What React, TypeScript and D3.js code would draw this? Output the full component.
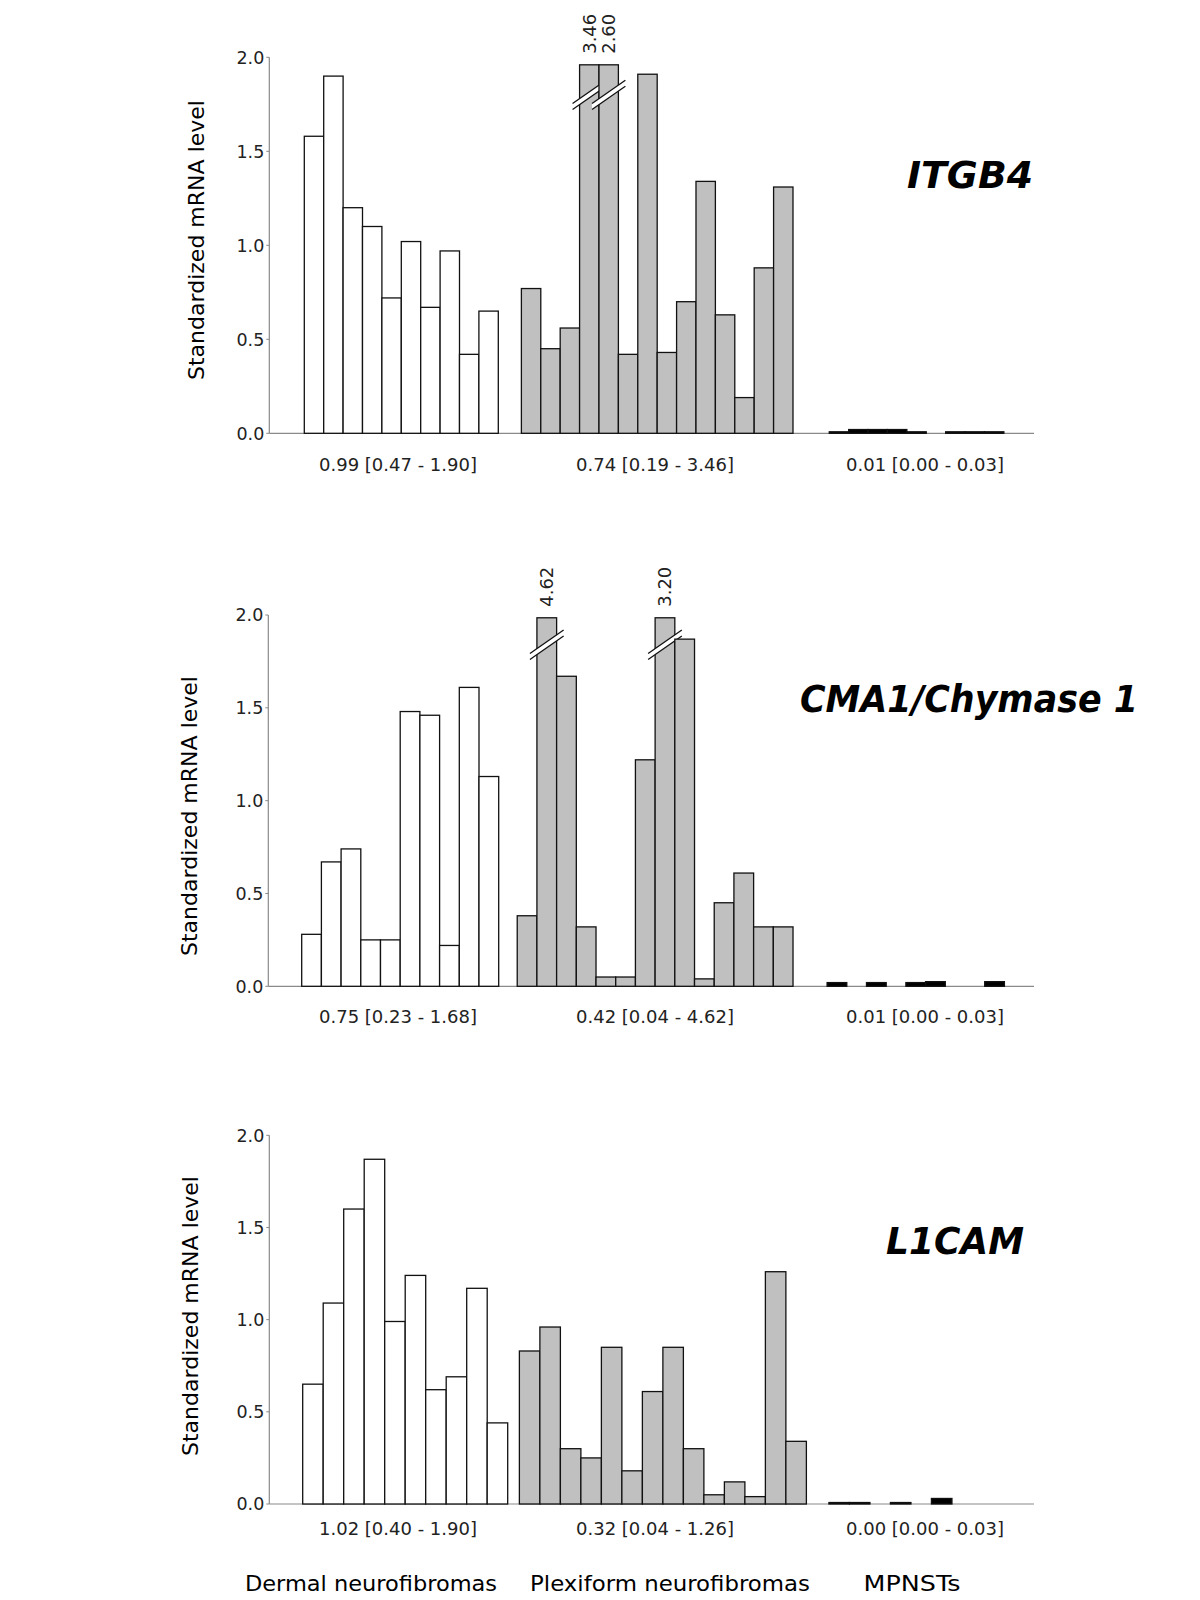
import { useEffect, useRef } from "react";
import * as d3 from "d3";

// groups along the x axis
const groups = ["Dermal neurofibromas", "Plexiform neurofibromas", "MPNSTs"];
const yTicks = [0, 0.5, 1.0, 1.5, 2.0];

// ITGB4
const itgb4Dermal = [1.58, 1.9, 1.2, 1.1, 0.72, 1.02, 0.67, 0.97, 0.42, 0.65];
const itgb4Plex = [0.77, 0.45, 0.56, 3.46, 2.6, 0.42, 1.91, 0.43, 0.7, 1.34, 0.63, 0.19, 0.88, 1.31];
const itgb4Mpnst = [0.008, 0.02, 0.02, 0.02, 0.008, 0, 0.008, 0.008, 0.008];
const itgb4Stats = ["0.99 [0.47 - 1.90]", "0.74 [0.19 - 3.46]", "0.01 [0.00 - 0.03]"];

// CMA1
const cma1Dermal = [0.28, 0.67, 0.74, 0.25, 0.25, 1.48, 1.46, 0.22, 1.61, 1.13];
const cma1Plex = [0.38, 4.62, 1.67, 0.32, 0.05, 0.05, 1.22, 3.2, 1.87, 0.04, 0.45, 0.61, 0.32, 0.32];
const cma1Mpnst = [0.02, 0, 0.02, 0, 0.02, 0.025, 0, 0, 0.025];
const cma1Stats = ["0.75 [0.23 - 1.68]", "0.42 [0.04 - 4.62]", "0.01 [0.00 - 0.03]"];

// L1CAM
const l1camDermal = [0.65, 1.09, 1.6, 1.87, 0.99, 1.24, 0.62, 0.69, 1.17, 0.44];
const l1camPlex = [0.83, 0.96, 0.3, 0.25, 0.85, 0.18, 0.61, 0.85, 0.3, 0.05, 0.12, 0.04, 1.26, 0.34];
const l1camMpnst = [0.008, 0.008, 0, 0.008, 0, 0.03];
const l1camStats = ["1.02 [0.40 - 1.90]", "0.32 [0.04 - 1.26]", "0.00 [0.00 - 0.03]"];

const panels = [
  {
    gene: "ITGB4", series: [itgb4Dermal, itgb4Plex, itgb4Mpnst], stats: itgb4Stats,
    top: 57.3, base: 433.3, axisX: 269.3, x0: 304.3, w: 19.4, offs: [0, 11.19, 27.06],
    cap: 1.96, brk: 1.8, titleX: 1033, titleY: 188, titleLen: 126, yTitleX: 197, yTitleY: 240, statY: 471,
  },
  {
    gene: "CMA1/Chymase 1", series: [cma1Dermal, cma1Plex, cma1Mpnst], stats: cma1Stats,
    top: 615, base: 986.3, axisX: 268.3, x0: 301.7, w: 19.7, offs: [0, 10.94, 26.67],
    cap: 1.985, brk: 1.84, titleX: 1138, titleY: 712, titleLen: 338, yTitleX: 190, yTitleY: 816, statY: 1023,
  },
  {
    gene: "L1CAM", series: [l1camDermal, l1camPlex, l1camMpnst], stats: l1camStats,
    top: 1135.3, base: 1504, axisX: 269.3, x0: 302.7, w: 20.5, offs: [0, 10.57, 25.67],
    cap: 1.98, brk: 1.84, titleX: 1024, titleY: 1254, titleLen: 138, yTitleX: 191, yTitleY: 1316, statY: 1535,
  },
];

const fills = ["#ffffff", "#c0c0c0", "#000000"];
const statCenters = [398, 655, 925];
const font = "'DejaVu Sans', Verdana, sans-serif";

const App = () => {
  const ref = useRef(null);

  useEffect(() => {
    const svg = d3.select(ref.current);
    svg.selectAll("*").remove();

    panels.forEach((p) => {
      const g = svg.append("g");
      const y = d3.scaleLinear().domain([0, 2]).range([p.base, p.top]);
      const x = d3.scaleLinear().domain([0, 1]).range([p.x0, p.x0 + p.w]);

      // axes
      g.append("line")
        .attr("x1", p.axisX).attr("x2", p.axisX)
        .attr("y1", y(2)).attr("y2", y(0))
        .attr("stroke", "#8a8a8a").attr("stroke-width", 1.2);
      g.append("line")
        .attr("x1", p.axisX).attr("x2", 1034)
        .attr("y1", y(0)).attr("y2", y(0))
        .attr("stroke", "#8a8a8a").attr("stroke-width", 1.2);
      yTicks.forEach((t) => {
        g.append("line")
          .attr("x1", p.axisX - 3).attr("x2", p.axisX)
          .attr("y1", y(t)).attr("y2", y(t))
          .attr("stroke", "#8a8a8a");
        g.append("text")
          .attr("x", p.axisX - 5).attr("y", y(t))
          .attr("dy", "0.36em")
          .attr("text-anchor", "end")
          .attr("font-family", font).attr("font-size", 17.5)
          .attr("fill", "#222")
          .text(t.toFixed(1));
      });

      // y title
      g.append("text")
        .attr("transform", `translate(${p.yTitleX},${p.yTitleY}) rotate(-90)`)
        .attr("dy", "0.35em")
        .attr("text-anchor", "middle")
        .attr("font-family", font).attr("font-size", 21)
        .attr("textLength", 280).attr("lengthAdjust", "spacingAndGlyphs")
        .text("Standardized mRNA level");

      // bars
      p.series.forEach((vals, gi) => {
        vals.forEach((v, i) => {
          if (v <= 0) return;
          const slot = p.offs[gi] + i;
          const xl = x(slot);
          const xr = x(slot + 1);
          const vv = Math.min(v, p.cap);
          g.append("rect")
            .attr("x", xl).attr("y", y(vv))
            .attr("width", xr - xl).attr("height", y(0) - y(vv))
            .attr("fill", fills[gi])
            .attr("stroke", "#111").attr("stroke-width", 1.3);

          if (v > p.cap) {
            // broken bar: break symbol and real value
            const cx = (xl + xr) / 2;
            const hw = (xr - xl) / 2 + 7;
            const yb = y(p.brk);
            const dy = hw * 0.7;
            const th = 3;
            g.append("polygon")
              .attr("points", [
                [cx - hw, yb + dy - th], [cx + hw, yb - dy - th],
                [cx + hw, yb - dy + th], [cx - hw, yb + dy + th],
              ].map((q) => q.join(",")).join(" "))
              .attr("fill", "#fff");
            [-th, th].forEach((o) => {
              g.append("line")
                .attr("x1", cx - hw).attr("y1", yb + dy + o)
                .attr("x2", cx + hw).attr("y2", yb - dy + o)
                .attr("stroke", "#111").attr("stroke-width", 1.3);
            });
            g.append("text")
              .attr("transform", `translate(${cx},${y(vv) - 11}) rotate(-90)`)
              .attr("dy", "0.36em")
              .attr("font-family", font).attr("font-size", 18)
              .attr("fill", "#222")
              .text(v.toFixed(2));
          }
        });
        g.append("text")
          .attr("x", statCenters[gi]).attr("y", p.statY)
          .attr("text-anchor", "middle")
          .attr("font-family", font).attr("font-size", 18)
          .attr("fill", "#222")
          .text(p.stats[gi]);
      });

      // gene title
      g.append("text")
        .attr("x", p.titleX).attr("y", p.titleY)
        .attr("text-anchor", "end")
        .attr("font-family", font).attr("font-size", 37)
        .attr("font-weight", "bold").attr("font-style", "italic")
        .attr("textLength", p.titleLen).attr("lengthAdjust", "spacingAndGlyphs")
        .text(p.gene);
    });

    // group names at bottom
    const names = [
      { x: 371, len: 252 },
      { x: 670, len: 280 },
      { x: 912, len: 97 },
    ];
    groups.forEach((name, i) => {
      svg.append("text")
        .attr("x", names[i].x).attr("y", 1591)
        .attr("text-anchor", "middle")
        .attr("font-family", font).attr("font-size", 22)
        .attr("textLength", names[i].len).attr("lengthAdjust", "spacingAndGlyphs")
        .text(name);
    });
  }, []);

  return (
    <svg
      ref={ref}
      width={1200}
      height={1600}
      style={{ position: "absolute", left: 0, top: 0, background: "#fff" }}
    />
  );
};

export default App;
